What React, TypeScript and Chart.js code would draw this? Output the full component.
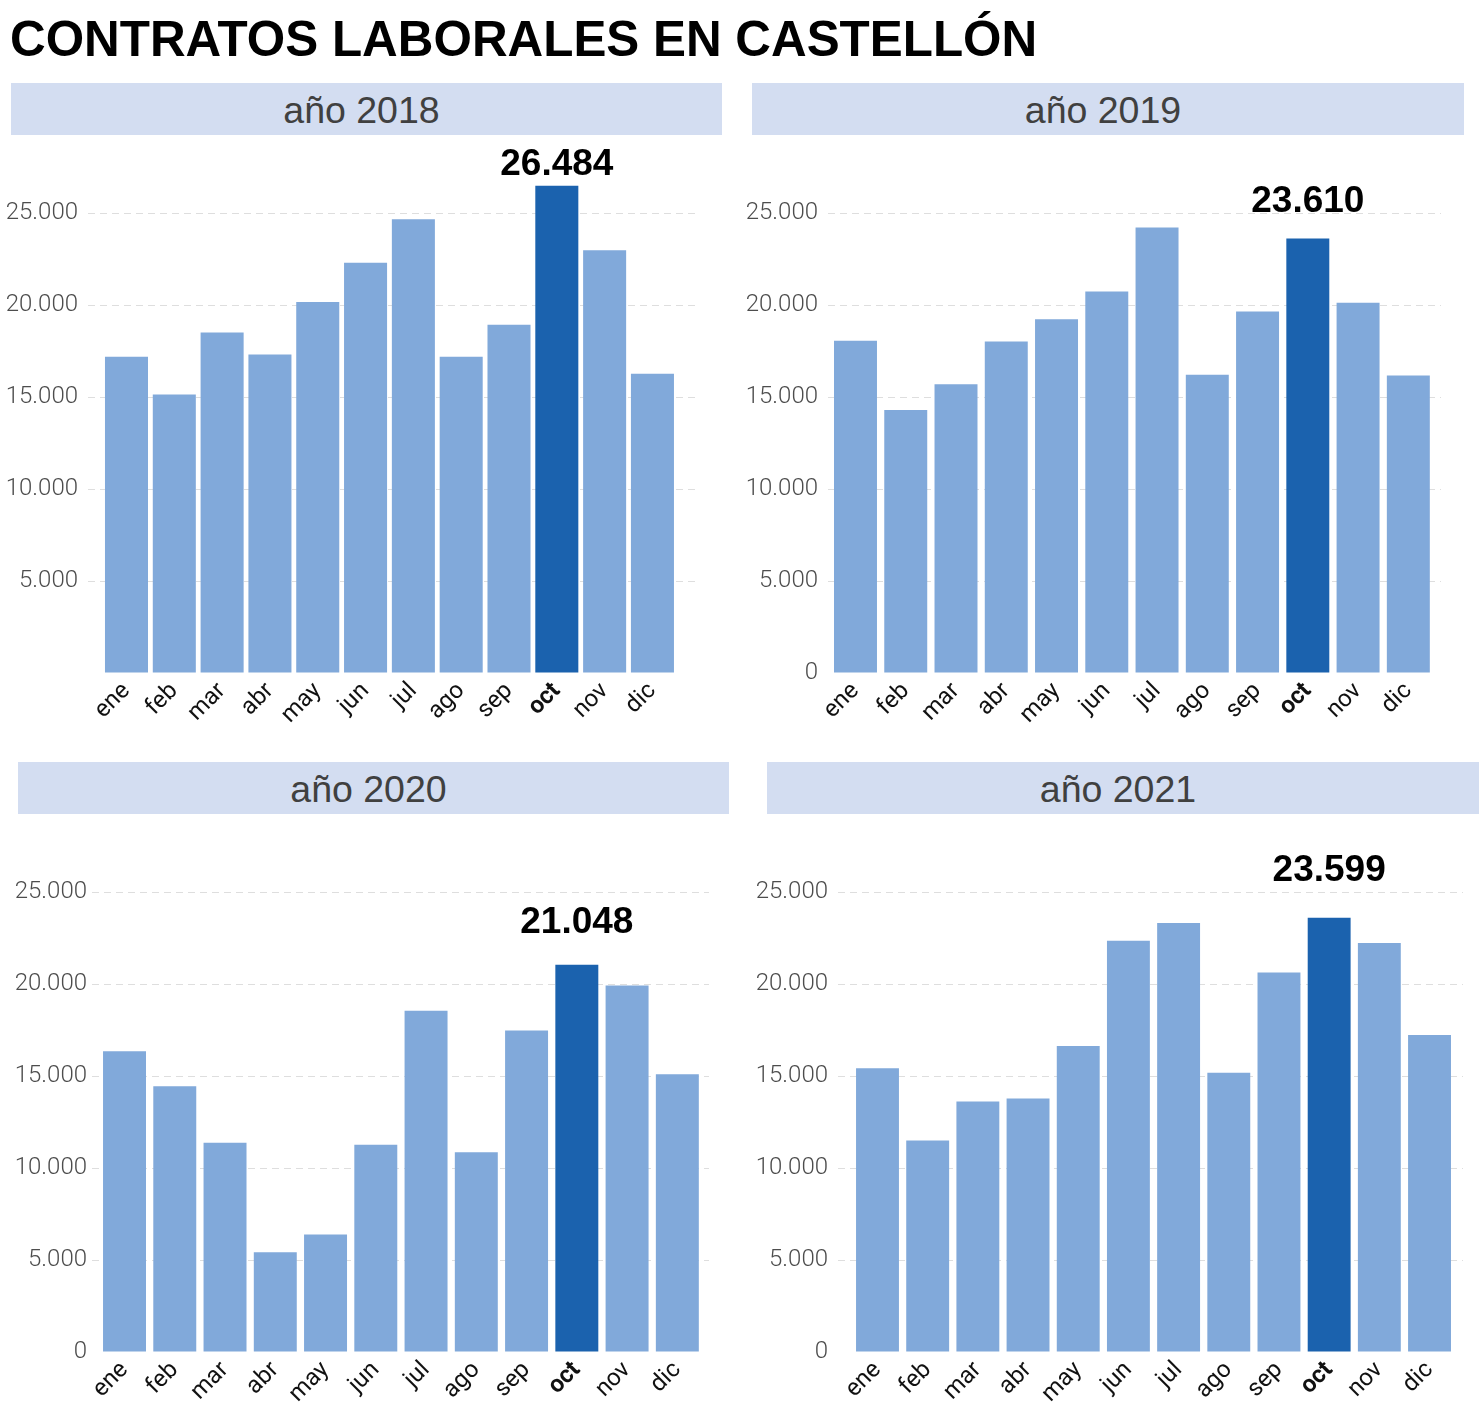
import React, { useEffect, useRef } from 'react';
import { Chart, registerables } from 'chart.js';

Chart.register(...registerables);

// ---------- data ----------
const TITLE = 'CONTRATOS LABORALES EN CASTELLÓN';
const MONTHS = ['ene', 'feb', 'mar', 'abr', 'may', 'jun', 'jul', 'ago', 'sep', 'oct', 'nov', 'dic'];
const Y_TICKS = [0, 5000, 10000, 15000, 20000, 25000];
const Y_MAX = 27000;
const HIGHLIGHT_INDEX = 9; // oct

const VALUES_2018 = [17190, 15140, 18510, 17310, 20160, 22290, 24660, 17190, 18920, 26484, 22970, 16270];
const VALUES_2019 = [18060, 14290, 15690, 18020, 19220, 20740, 24210, 16210, 19640, 23610, 20120, 16170];
const VALUES_2020 = [16350, 14440, 11370, 5420, 6390, 11270, 18550, 10860, 17470, 21048, 19920, 15100];
const VALUES_2021 = [15420, 11490, 13610, 13780, 16630, 22350, 23310, 15180, 20620, 23599, 22230, 17230];

// ---------- style ----------
const BAR_LIGHT = '#81a9da';
const BAR_DARK = '#1b62ae';
const HEADER_BG = '#d3ddf1';
const GRID_COLOR = '#dedede';

const fmt = (v: number) => String(Math.round(v)).replace(/\B(?=(\d{3})+(?!\d))/g, '.');

type Panel = {
  year: string;
  values: number[];
  showZero: boolean;
  header: { left: number; top: number; width: number };
  canvas: { left: number; top: number; width: number; height: number };
  padTop: number;
  xMin: number;
  xMax: number;
  barPct: number;
  tickPad: number;
  lift: number;
};

const PANELS: Panel[] = [
  {
    year: '2018', values: VALUES_2018, showZero: false,
    header: { left: 11, top: 83, width: 711 },
    canvas: { left: 0, top: 140, width: 695, height: 600 },
    padTop: 36.2, xMin: -0.805, xMax: 11.89, barPct: 0.9, tickPad: 10, lift: 11,
  },
  {
    year: '2019', values: VALUES_2019, showZero: true,
    header: { left: 752, top: 83, width: 712 },
    canvas: { left: 740, top: 140, width: 701, height: 600 },
    padTop: 36.2, xMin: -0.547, xMax: 11.65, barPct: 0.855, tickPad: 10, lift: 27,
  },
  {
    year: '2020', values: VALUES_2020, showZero: true,
    header: { left: 18, top: 762, width: 711 },
    canvas: { left: 4, top: 820, width: 705, height: 599 },
    padTop: 35.2, xMin: -0.647, xMax: 11.63, barPct: 0.855, tickPad: 5, lift: 32,
  },
  {
    year: '2021', values: VALUES_2021, showZero: true,
    header: { left: 767, top: 762, width: 712 },
    canvas: { left: 750, top: 820, width: 713, height: 599 },
    padTop: 35.2, xMin: -0.787, xMax: 11.667, barPct: 0.855, tickPad: 10, lift: 37,
  },
];

function BarPanel({ panel }: { panel: Panel }) {
  const ref = useRef<HTMLCanvasElement | null>(null);

  useEffect(() => {
    if (!ref.current) return;
    const values = panel.values;
    const valueLabel = {
      id: 'valueLabel',
      afterDatasetsDraw(chart: any) {
        const el = chart.getDatasetMeta(0).data[HIGHLIGHT_INDEX];
        if (!el) return;
        const ctx = chart.ctx;
        ctx.save();
        ctx.font = 'bold 37px "Liberation Sans", Arial, sans-serif';
        ctx.fillStyle = '#000';
        ctx.textAlign = 'center';
        ctx.textBaseline = 'alphabetic';
        ctx.fillText(fmt(values[HIGHLIGHT_INDEX]), el.x, el.y - panel.lift);
        ctx.restore();
      },
    };

    const chart = new Chart(ref.current, {
      type: 'bar',
      data: {
        datasets: [
          {
            data: values.map((v, i) => ({ x: i, y: v })),
            backgroundColor: values.map((_, i) => (i === HIGHLIGHT_INDEX ? BAR_DARK : BAR_LIGHT)),
            borderWidth: 0,
            barPercentage: panel.barPct,
            categoryPercentage: 1,
          },
        ],
      },
      options: {
        responsive: false,
        animation: false,
        layout: { padding: { top: panel.padTop, left: 0, right: 0, bottom: 0 } },
        plugins: { legend: { display: false }, tooltip: { enabled: false }, title: { display: false } },
        scales: {
          x: {
            type: 'linear',
            offset: false,
            min: panel.xMin,
            max: panel.xMax,
            grid: { display: false, drawTicks: false, offset: false },
            border: { display: false },
            afterFit: (s: any) => { s.height = 67; },
            afterBuildTicks: (s: any) => { s.ticks = MONTHS.map((_, i) => ({ value: i })); },
            ticks: {
              autoSkip: false,
              minRotation: 45,
              maxRotation: 45,
              padding: 4,
              color: '#111',
              font: (ctx: any) => ({
                family: 'Roboto, "Liberation Sans", sans-serif',
                size: 24,
                weight: ctx.tick && ctx.tick.value === HIGHLIGHT_INDEX ? 'bold' : 'normal',
              }),
              callback: (v: any) => {
                const n = Number(v);
                return Number.isInteger(n) && n >= 0 && n < MONTHS.length ? MONTHS[n] : '';
              },
            },
          },
          y: {
            min: 0,
            max: Y_MAX,
            afterFit: (s: any) => { s.width = 88; },
            afterBuildTicks: (s: any) => { s.ticks = Y_TICKS.map((v) => ({ value: v })); },
            grid: {
              drawTicks: false,
              color: (ctx: any) => (ctx.tick && ctx.tick.value === 0 ? 'rgba(0,0,0,0)' : GRID_COLOR),
              lineWidth: 1,
            },
            border: { display: false, dash: [7, 5] },
            ticks: {
              padding: panel.tickPad,
              color: '#4d4d4d',
              font: { family: 'Roboto, "Liberation Sans", sans-serif', size: 24, weight: '300' },
              callback: (v: any) => {
                const n = Number(v);
                if (n === 0 && !panel.showZero) return '';
                return fmt(n);
              },
            },
          },
        },
      },
      plugins: [valueLabel],
    } as any);

    return () => chart.destroy();
  }, [panel]);

  return (
    <canvas
      ref={ref}
      width={panel.canvas.width}
      height={panel.canvas.height}
      style={{
        position: 'absolute',
        left: panel.canvas.left,
        top: panel.canvas.top,
        width: panel.canvas.width,
        height: panel.canvas.height,
      }}
    />
  );
}

export default function App() {
  return (
    <div style={{ position: 'absolute', left: 0, top: 0, width: 1479, height: 1420, background: '#fff', overflow: 'hidden' }}>
      <div
        style={{
          position: 'absolute', left: 10, top: 14, fontFamily: '"Liberation Sans", Arial, sans-serif',
          fontWeight: 'bold', fontSize: 49.4, lineHeight: '49px', color: '#000', whiteSpace: 'nowrap',
        }}
      >
        {TITLE}
      </div>
      {PANELS.map((p) => (
        <div
          key={'h' + p.year}
          style={{
            position: 'absolute', left: p.header.left, top: p.header.top, width: p.header.width, height: 52,
            background: HEADER_BG, display: 'flex', alignItems: 'center', justifyContent: 'center',
            fontFamily: '"Liberation Sans", Arial, sans-serif', fontSize: 37.5, color: '#404040',
            paddingTop: 3, paddingRight: 10, boxSizing: 'border-box',
          }}
        >
          {'año ' + p.year}
        </div>
      ))}
      {PANELS.map((p) => (
        <BarPanel key={p.year} panel={p} />
      ))}
    </div>
  );
}
